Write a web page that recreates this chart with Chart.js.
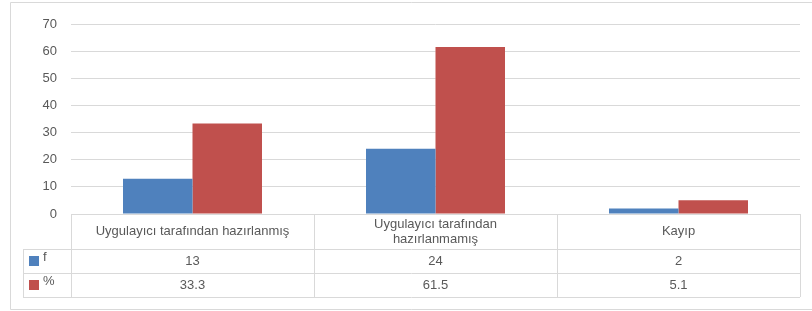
<!DOCTYPE html>
<html>
<head>
<meta charset="utf-8">
<script src="https://cdn.jsdelivr.net/npm/chart.js@4"></script>
<style>
  html, body { margin: 0; padding: 0; background: #fff; }
  #wrap { width: 812px; height: 311px; }
</style>
</head>
<body>
<div id="wrap"><canvas id="chart" width="812" height="311"></canvas></div>
<script>
  // chart data
  const categories = ['Uygulayıcı tarafından hazırlanmış', ['Uygulayıcı tarafından', 'hazırlanmamış'], 'Kayıp'];
  const seriesNames = ['f', '%'];
  const fValues = [13, 24, 2];
  const pctValues = [33.3, 61.5, 5.1];
  const yTicks = [0, 10, 20, 30, 40, 50, 60, 70];

  const colors = ['#4F81BD', '#C0504D'];
  const textColor = '#595959';
  const lineColor = '#d9d9d9';
  const font = '13px "Liberation Sans", Arial, sans-serif';

  // draws the data table under the plot plus the outer frame
  const tablePlugin = {
    id: 'dataTable',
    afterDraw(chart) {
      const ctx = chart.ctx;
      const area = chart.chartArea;
      const x = chart.scales.x;
      const catW = (area.right - area.left) / categories.length;
      const top = area.bottom;
      const headH = 35, rowH = 24;
      const legendLeft = 23;
      const rows = [fValues, pctValues];

      ctx.save();
      ctx.strokeStyle = lineColor;
      ctx.lineWidth = 1;

      // outer frame (right edge runs off the page)
      ctx.beginPath();
      ctx.moveTo(812, 2.5);
      ctx.lineTo(10.5, 2.5);
      ctx.lineTo(10.5, 309.5);
      ctx.lineTo(812, 309.5);
      ctx.stroke();

      ctx.beginPath();
      // header top line
      ctx.moveTo(area.left, top + 0.5);
      ctx.lineTo(area.right, top + 0.5);
      // row lines
      for (let r = 0; r <= rows.length; r++) {
        const y = Math.round(top + headH + r * rowH) + 0.5;
        ctx.moveTo(legendLeft, y);
        ctx.lineTo(area.right, y);
      }
      // column lines
      const bottom = top + headH + rows.length * rowH;
      for (let i = 0; i <= categories.length; i++) {
        const cx = Math.round(area.left + i * catW) + 0.5;
        ctx.moveTo(cx, top);
        ctx.lineTo(cx, bottom);
      }
      ctx.moveTo(legendLeft + 0.5, top + headH);
      ctx.lineTo(legendLeft + 0.5, bottom);
      ctx.stroke();

      ctx.font = font;
      ctx.fillStyle = textColor;
      ctx.textAlign = 'center';
      ctx.textBaseline = 'middle';

      // category labels
      categories.forEach((c, i) => {
        const cx = x.getPixelForValue(i);
        const lines = Array.isArray(c) ? c : [c];
        const mid = top + headH / 2;
        lines.forEach((ln, k) => {
          ctx.fillText(ln, cx, mid + (k - (lines.length - 1) / 2) * 15);
        });
      });

      // values + legend keys
      rows.forEach((vals, r) => {
        const mid = top + headH + r * rowH + rowH / 2;
        vals.forEach((v, i) => {
          ctx.fillStyle = textColor;
          ctx.textAlign = 'center';
          ctx.fillText(String(v), x.getPixelForValue(i), mid);
        });
        ctx.fillStyle = colors[r];
        ctx.fillRect(29, mid - 5, 10, 10);
        ctx.fillStyle = textColor;
        ctx.textAlign = 'left';
        ctx.fillText(seriesNames[r], 43, mid - 4);
      });
      ctx.restore();
    }
  };

  new Chart(document.getElementById('chart').getContext('2d'), {
    type: 'bar',
    data: {
      labels: categories,
      datasets: [
        { label: seriesNames[0], data: fValues, backgroundColor: colors[0] },
        { label: seriesNames[1], data: pctValues, backgroundColor: colors[1] }
      ]
    },
    options: {
      responsive: false,
      animation: false,
      layout: { padding: { top: 24, right: 12, bottom: 97, left: 0 } },
      datasets: { bar: { barPercentage: 1, categoryPercentage: 0.572 } },
      scales: {
        x: { display: false },
        y: {
          min: 0,
          max: 70,
          afterFit(scale) { scale.width = 71; },
          afterBuildTicks(scale) { scale.ticks = yTicks.map(v => ({ value: v })); },
          grid: { color: lineColor, drawTicks: false },
          border: { display: false },
          ticks: {
            padding: 14,
            color: textColor,
            font: { family: '"Liberation Sans", Arial, sans-serif', size: 13 }
          }
        }
      },
      plugins: { legend: { display: false }, tooltip: { enabled: false } }
    },
    plugins: [tablePlugin]
  });
</script>
</body>
</html>
